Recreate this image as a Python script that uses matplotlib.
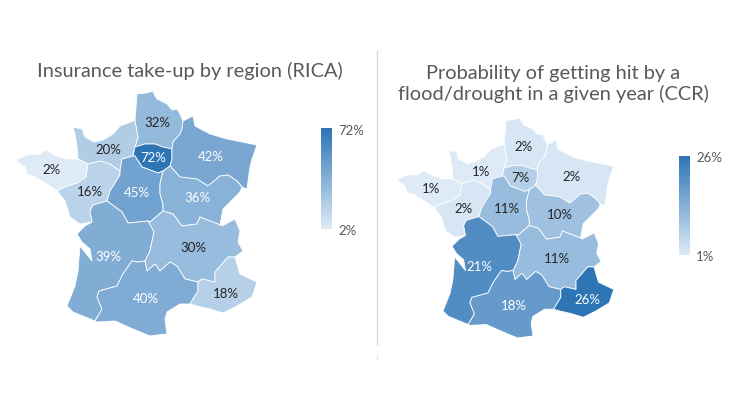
import matplotlib
matplotlib.use("Agg")
import numpy as np
import matplotlib.pyplot as plt
from matplotlib.colors import LinearSegmentedColormap, Normalize
from matplotlib.patches import Polygon
from matplotlib.transforms import Affine2D

plt.rcParams['font.family'] = ['Lato', 'DejaVu Sans']

# region outlines, traced in map units
hauts_de_france = [(137, 95), (146, 94), (153, 92), (155, 97), (157, 100), (167, 105), (172, 111), (177, 110), (180, 115),
                   (183, 122), (182, 130), (180, 135), (173, 143), (172, 150), (163, 148), (155, 145), (145, 145),
                   (135, 148), (138, 138), (135, 122)]
normandie = [(73, 128), (82, 130), (85, 138), (94, 143), (103, 141), (113, 135), (120, 127), (133, 122), (135, 122),
             (138, 138), (135, 148), (133, 157), (122, 160), (120, 172), (110, 165), (100, 162), (88, 165), (78, 160),
             (77, 148), (75, 135)]
bretagne = [(17, 160), (30, 155), (38, 156), (45, 151), (57, 157), (67, 160), (78, 160), (88, 165), (86, 178), (77, 184),
            (65, 188), (57, 192), (47, 185), (35, 178), (27, 175), (25, 168), (17, 163)]
pays_de_la_loire = [(88, 165), (100, 162), (110, 165), (120, 172), (120, 176), (110, 192), (107, 202), (93, 206), (90, 212),
                    (92, 223), (80, 225), (70, 218), (65, 202), (57, 192), (65, 188), (77, 184), (86, 178)]
centre = [(122, 160), (133, 157), (135, 157), (142, 168), (153, 172), (158, 174), (163, 172), (160, 185), (160, 195),
          (163, 205), (163, 212), (150, 223), (148, 222), (128, 224), (122, 213), (107, 202), (110, 192), (120, 176),
          (120, 172)]
ile_de_france = [(135, 148), (145, 145), (155, 145), (163, 148), (172, 150), (172, 160), (170, 167), (163, 172), (158, 174),
                 (153, 172), (142, 168), (135, 157), (133, 157)]
grand_est = [(183, 122), (193, 117), (195, 127), (210, 135), (227, 140), (237, 142), (257, 146), (252, 160), (250, 168),
             (247, 190), (242, 188), (237, 182), (228, 176), (220, 177), (208, 187), (197, 180), (180, 178), (170, 167),
             (172, 160), (172, 150), (173, 143), (180, 135), (182, 130)]
bourgogne_fc = [(163, 172), (170, 167), (180, 178), (197, 180), (208, 187), (220, 177), (228, 176), (237, 182), (242, 188),
                (240, 193), (223, 210), (220, 226), (218, 225), (200, 218), (197, 225), (182, 227), (173, 215), (163, 212),
                (163, 205), (160, 195), (160, 185)]
auvergne_ra = [(148, 222), (150, 223), (163, 212), (173, 215), (182, 227), (197, 225), (200, 218), (218, 225), (220, 226),
               (222, 227), (235, 220), (240, 232), (238, 243), (243, 252), (235, 258), (228, 258), (215, 273), (215, 283),
               (202, 280), (198, 283), (185, 280), (177, 267), (170, 263), (160, 272), (155, 265), (147, 272), (145, 262),
               (150, 252), (154, 233)]
paca = [(228, 258), (235, 258), (240, 275), (257, 283), (252, 298), (237, 307), (223, 314), (210, 310), (197, 307),
        (190, 305), (198, 292), (198, 283), (202, 280), (215, 283), (215, 273)]
occitanie = [(132, 262), (138, 263), (145, 262), (147, 272), (155, 265), (160, 272), (170, 263), (177, 267), (185, 280),
             (198, 283), (198, 292), (190, 305), (180, 305), (167, 313), (165, 320), (167, 335), (157, 336), (150, 337),
             (133, 330), (115, 322), (97, 323), (95, 322), (102, 310), (97, 298), (99, 292), (117, 287), (123, 275)]
nouvelle_aq = [(92, 223), (90, 212), (93, 206), (107, 202), (122, 213), (128, 224), (148, 222), (150, 223), (154, 233),
               (150, 252), (145, 262), (138, 263), (132, 262), (123, 275), (117, 287), (99, 292), (97, 298), (102, 310),
               (95, 322), (73, 313), (67, 307), (75, 287), (78, 272), (80, 247), (92, 262), (90, 250), (82, 243), (77, 235),
               (85, 227)]

regions = [hauts_de_france, normandie, ile_de_france, grand_est, bretagne, pays_de_la_loire,
           centre, bourgogne_fc, nouvelle_aq, auvergne_ra, occitanie, paca]

# same order as regions
rica_values = [32, 20, 72, 42, 2, 16, 45, 36, 39, 30, 40, 18]
ccr_values = [2, 1, 7, 2, 1, 2, 11, 10, 21, 11, 18, 26]

rica_label_x = [157, 108, 153, 211, 52, 90, 137, 197, 108, 193, 146, 226]
rica_label_y = [123, 150, 158, 157, 170, 192, 193, 198, 257, 248, 299, 294]
ccr_label_x = [524, 481, 520, 572, 431, 464, 507, 560, 479, 557, 514, 587]
ccr_label_y = [147, 172, 178, 177, 189, 209, 209, 215, 267, 259, 306, 300]

title_left = "Insurance take-up by region (RICA)"
title_right = "Probability of getting hit by a\nflood/drought in a given year (CCR)"

cmap = LinearSegmentedColormap.from_list("blues", ["#DEEBF7", "#2E75B6"])
grey = "#595959"


def draw_map(ax, values, label_x, label_y, scale, tx, ty):
    norm = Normalize(min(values), max(values))
    trans = Affine2D().scale(scale).translate(tx, ty) + ax.transData
    for shape, v in zip(regions, values):
        ax.add_patch(Polygon(shape, closed=True, facecolor=cmap(norm(v)), edgecolor="white",
                             linewidth=0.6, joinstyle="round", transform=trans))
    for x, y, v in zip(label_x, label_y, values):
        color = "white" if norm(v) > 0.45 else "#262626"
        ax.text(x, y, f"{v}%", color=color, fontsize=9.5, ha="center", va="center")


def draw_scale(ax, values, x0, x1, y0, y1):
    gradient = np.linspace(1, 0, 256).reshape(-1, 1)
    ax.imshow(gradient, cmap=cmap, extent=(x0, x1, y1, y0), aspect="auto", zorder=2)
    ax.text(x1 + 6, y0 + 1, f"{max(values)}%", color=grey, fontsize=9.5, va="center")
    ax.text(x1 + 6, y1 + 1, f"{min(values)}%", color=grey, fontsize=9.5, va="center")


fig = plt.figure(figsize=(7.3, 4.1), dpi=100)
ax = fig.add_axes([0, 0, 1, 1])

draw_map(ax, rica_values, rica_label_x, rica_label_y, 1, 0, 0)
draw_map(ax, ccr_values, ccr_label_x, ccr_label_y, 0.899, 382.75, 36.0)
draw_scale(ax, rica_values, 321, 332, 130, 230)
draw_scale(ax, ccr_values, 679, 690, 157, 256)

ax.text(190, 71, title_left, color=grey, fontsize=14.4, ha="center", va="center")
ax.text(553, 84, title_right, color=grey, fontsize=14.4, ha="center", va="center", linespacing=1.25)

ax.plot([377, 377], [52, 345], color="#D9D9D9", lw=1)
ax.plot([377, 377], [356, 360], color="#E8E8E8", lw=1)

ax.set_xlim(0, 730)
ax.set_ylim(410, 0)
ax.axis("off")

fig.savefig("out.png", dpi=100)
